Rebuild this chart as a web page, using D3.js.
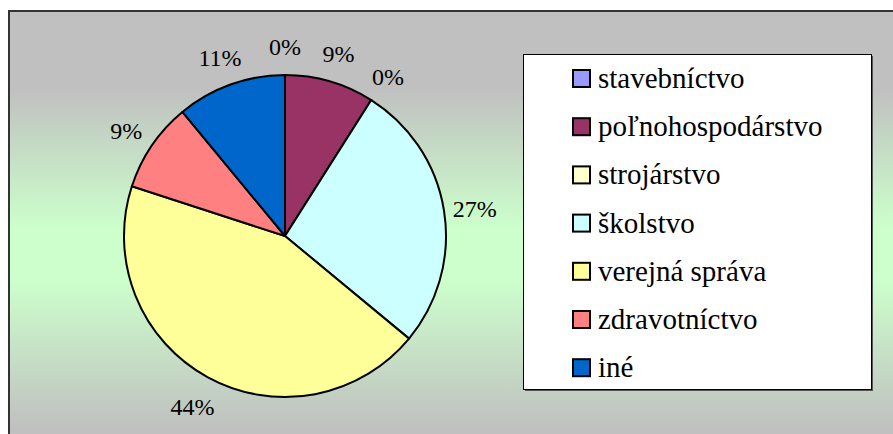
<!DOCTYPE html>
<html>
<head>
<meta charset="utf-8">
<script src="https://cdn.jsdelivr.net/npm/d3@7"></script>
</head>
<body style="margin:0">
<script>
var categories = ["stavebníctvo", "poľnohospodárstvo", "strojárstvo", "školstvo",
                  "verejná správa", "zdravotníctvo", "iné"];
var values = [0, 9, 0, 27, 44, 9, 11];
var labels = ["0%", "9%", "0%", "27%", "44%", "9%", "11%"];
var colors = ["#9999ff", "#993366", "#ffffcc", "#ccffff", "#ffff99", "#ff8080", "#0066cc"];

var width = 893;
var height = 434;
var font = "'Liberation Serif', 'Times New Roman', serif";

var cx = 285, cy = 236;
var radius = 161;
var labelRadius = 192;

var svg = d3.select("body")
    .append("svg")
    .attr("width", width)
    .attr("height", height);

//background gradient, gray - green - gray
var grad = svg.append("defs")
    .append("linearGradient")
    .attr("id", "bg")
    .attr("x1", 0).attr("y1", 0)
    .attr("x2", 0).attr("y2", 1);
grad.append("stop").attr("offset", "0.18").attr("stop-color", "#c0c0c0");
grad.append("stop").attr("offset", "0.5").attr("stop-color", "#ccffcc");
grad.append("stop").attr("offset", "0.62").attr("stop-color", "#ccffcc");
grad.append("stop").attr("offset", "0.96").attr("stop-color", "#c0c0c0");

svg.append("rect")
    .attr("x", 9).attr("y", 11)
    .attr("width", width).attr("height", height)
    .attr("fill", "url(#bg)");

svg.append("path")
    .attr("d", "M9," + height + "V11H" + width)
    .attr("fill", "none")
    .attr("stroke", "#333")
    .attr("stroke-width", 2);

var color = d3.scaleOrdinal().domain(categories).range(colors);

var pie = d3.pie().sort(null).value(function(d) { return d; });
var arc = d3.arc().innerRadius(0).outerRadius(radius);
var labelArc = d3.arc().innerRadius(labelRadius).outerRadius(labelRadius);

var arcs = svg.selectAll("g.arc")
    .data(pie(values))
    .enter()
    .append("g")
    .attr("class", "arc")
    .attr("transform", "translate(" + cx + "," + cy + ")");

arcs.append("path")
    .attr("fill", function(d, i) { return color(categories[i]); })
    .attr("stroke", "#000")
    .attr("stroke-width", 2)
    .attr("stroke-linejoin", "round")
    .attr("d", arc);

//percent labels, placed outside the pie
svg.selectAll("text.pct")
    .data(pie(values))
    .enter()
    .append("text")
    .attr("class", "pct")
    .attr("x", function(d) { return cx + labelArc.centroid(d)[0]; })
    .attr("y", function(d) { return cy + labelArc.centroid(d)[1]; })
    .attr("text-anchor", "middle")
    .attr("dy", "0.45em")
    .style("font-family", font)
    .style("font-size", "24px")
    .style("fill", "#000")
    .text(function(d, i) { return labels[i]; });

//legend
svg.append("rect")
    .attr("x", 525).attr("y", 56)
    .attr("width", 348).attr("height", 335)
    .attr("fill", "#555");
svg.append("rect")
    .attr("x", 523.5).attr("y", 54.5)
    .attr("width", 348).attr("height", 335)
    .attr("fill", "#fff")
    .attr("stroke", "#000")
    .attr("stroke-width", 1);

var itemY = function(i) { return 70 + i * 48.2; };

svg.selectAll("rect.swatch")
    .data(categories)
    .enter()
    .append("rect")
    .attr("class", "swatch")
    .attr("x", 573)
    .attr("y", function(d, i) { return itemY(i); })
    .attr("width", 17).attr("height", 17)
    .attr("fill", function(d) { return color(d); })
    .attr("stroke", "#000")
    .attr("stroke-width", 2);

svg.selectAll("text.legend")
    .data(categories)
    .enter()
    .append("text")
    .attr("class", "legend")
    .attr("x", 598)
    .attr("y", function(d, i) { return itemY(i) + 18; })
    .style("font-family", font)
    .style("font-size", "29px")
    .style("fill", "#000")
    .text(function(d) { return d; });
</script>
</body>
</html>
